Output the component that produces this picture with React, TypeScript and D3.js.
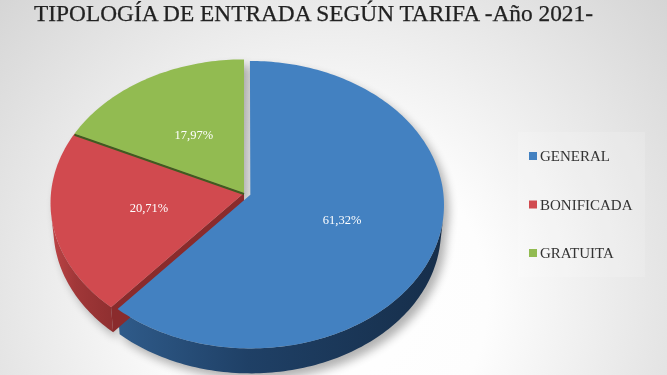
import * as d3 from "d3";

const categories = ["GENERAL", "BONIFICADA", "GRATUITA"];
const shares = [61.32, 20.71, 17.97];
const shareLabels = ["61,32%", "20,71%", "17,97%"];
const topColors = ["#4381c1", "#d14a4f", "#92bb51"];
const wallStops = [
  ["#2f5b8a", "#1f4066", "#162e4a"],
  ["#bd4446", "#a03738", "#8f2f30"],
  ["#7a9c40", "#6a8a36", "#5a7a2c"],
];
const faceColors = ["#1c3a5c", "#8a2b2c", "#4e6b25"];
const explode = [0.035, 0, 0];
const title = "TIPOLOGÍA DE ENTRADA SEGÚN TARIFA -Año 2021-";

const W = 667;
const H = 375;

// simple perspective camera looking down on a unit-radius pie
const CX = 244;
const CY = 193;
const SCALE = 193;
const DIST = 9.77;
const SIN_T = 0.74;
const COS_T = 0.673;
const THICK = 0.2;

type Pt = [number, number];

function project(x: number, z: number, y = 0): Pt {
  const yc = y * COS_T + z * SIN_T;
  const depth = DIST - y * SIN_T + z * COS_T;
  const k = (SCALE * DIST) / depth;
  return [CX + x * k, CY - yc * k];
}

function rim(a0: number, a1: number, y: number, ox: number, oz: number): Pt[] {
  const n = Math.max(2, Math.ceil(Math.abs(a1 - a0) / 0.02));
  return d3.range(n + 1).map((i) => {
    const a = a0 + ((a1 - a0) * i) / n;
    return project(ox + Math.sin(a), oz + Math.cos(a), y);
  });
}

const line = d3.line<Pt>().curve(d3.curveLinear);
const closed = (pts: Pt[]) => line(pts) + "Z";

// outer wall is only seen where cos(a) < -1/(D cos t)
const visFrom = Math.acos(-1 / (DIST * COS_T));
const visTo = 2 * Math.PI - visFrom;

export default function App() {
  const arcs = d3.pie<number>().sort(null).value((d) => d)(shares);

  const slices = arcs.map((a, i) => {
    const mid = (a.startAngle + a.endAngle) / 2;
    const ox = explode[i] * Math.sin(mid);
    const oz = explode[i] * Math.cos(mid);
    const apex = project(ox, oz);
    const top = closed([apex, ...rim(a.startAngle, a.endAngle, 0, ox, oz)]);

    let wall: string | null = null;
    const w0 = Math.max(a.startAngle, visFrom);
    const w1 = Math.min(a.endAngle, visTo);
    if (w1 > w0) {
      const upper = rim(w0, w1, 0, ox, oz);
      const lower = rim(w0, w1, -THICK, ox, oz).reverse();
      wall = closed([...upper, ...lower]);
    }

    // cut face at the start angle: faces the viewer when sin(start) < 0,
    // and only shows if this slice or the one before it is pulled out
    let face: string | null = null;
    const prev = (i + arcs.length - 1) % arcs.length;
    if (Math.sin(a.startAngle) < -0.01 && (explode[i] > 0 || explode[prev] > 0)) {
      const sa = a.startAngle;
      face = closed([
        project(ox, oz, 0),
        project(ox + Math.sin(sa), oz + Math.cos(sa), 0),
        project(ox + Math.sin(sa), oz + Math.cos(sa), -THICK),
        project(ox, oz, -THICK),
      ]);
    }

    const label = project(ox + 0.5 * Math.sin(mid), oz + 0.5 * Math.cos(mid));
    return { i, a, top, wall, face, label, apex };
  });

  const green = arcs[2];
  const seamStart = project(0, 0);
  const seamEnd = project(Math.sin(green.startAngle), Math.cos(green.startAngle));

  const legendY = d3.scalePoint<string>().domain(categories).range([156, 253]);

  return (
    <svg
      width={W}
      height={H}
      viewBox={`0 0 ${W} ${H}`}
      style={{ position: "fixed", left: 0, top: 0, display: "block" }}
    >
      <defs>
        <radialGradient id="bg" gradientUnits="userSpaceOnUse" cx={330} cy={300} r={450}>
          <stop offset="0" stopColor="#ffffff" />
          <stop offset="0.35" stopColor="#fdfdfd" />
          <stop offset="1" stopColor="#d5d5d5" />
        </radialGradient>
        {slices.map((s) => (
          <linearGradient key={s.i} id={`wall${s.i}`} x1="0" x2="1" y1="0" y2="0">
            <stop offset="0" stopColor={wallStops[s.i][0]} />
            <stop offset="0.4" stopColor={wallStops[s.i][1]} />
            <stop offset="1" stopColor={wallStops[s.i][2]} />
          </linearGradient>
        ))}
        <filter id="shadow" x="-20%" y="-20%" width="140%" height="140%">
          <feGaussianBlur stdDeviation="5" />
        </filter>
      </defs>

      <rect width={W} height={H} fill="url(#bg)" />

      <text
        x={34}
        y={21}
        textLength={559}
        lengthAdjust="spacingAndGlyphs"
        fontFamily="'Liberation Serif', 'DejaVu Serif', serif"
        fontSize={22.5}
        fill="#222222"
        stroke="#222222"
        strokeWidth={0.25}
      >
        {title}
      </text>

      <rect x={518} y={132} width={127} height={145} fill="#ffffff" opacity={0.15} />

      {/* drop shadow */}
      <g filter="url(#shadow)" transform="translate(5,6)" opacity={0.3}>
        {slices.map((s) => (
          <g key={s.i}>
            <path d={s.top} fill="#000" />
            {s.wall && <path d={s.wall} fill="#000" />}
          </g>
        ))}
      </g>

      {/* sides */}
      {slices.map((s) => (
        <g key={s.i}>
          {s.face && <path d={s.face} fill={faceColors[s.i]} />}
          {s.wall && <path d={s.wall} fill={`url(#wall${s.i})`} />}
        </g>
      ))}

      {/* tops */}
      {slices.map((s) => (
        <path key={s.i} d={s.top} fill={topColors[s.i]} />
      ))}

      <line
        x1={seamStart[0]}
        y1={seamStart[1] + 1}
        x2={seamEnd[0]}
        y2={seamEnd[1] + 1}
        stroke="#3f5c20"
        strokeWidth={2}
      />

      {slices.map((s) => (
        <text
          key={s.i}
          x={s.label[0]}
          y={s.label[1]}
          dy="0.35em"
          textAnchor="middle"
          fontFamily="'Liberation Serif', 'DejaVu Serif', serif"
          fontSize={12.5}
          fill="#ffffff"
        >
          {shareLabels[s.i]}
        </text>
      ))}

      {categories.map((c, i) => (
        <g key={c} transform={`translate(529,${legendY(c)})`}>
          <rect x={0} y={-4} width={8} height={8} fill={topColors[i]} />
          <text
            x={11}
            y={0}
            dy="0.35em"
            fontFamily="'Liberation Serif', 'DejaVu Serif', serif"
            fontSize={15}
            fill="#333333"
          >
            {c}
          </text>
        </g>
      ))}
    </svg>
  );
}
